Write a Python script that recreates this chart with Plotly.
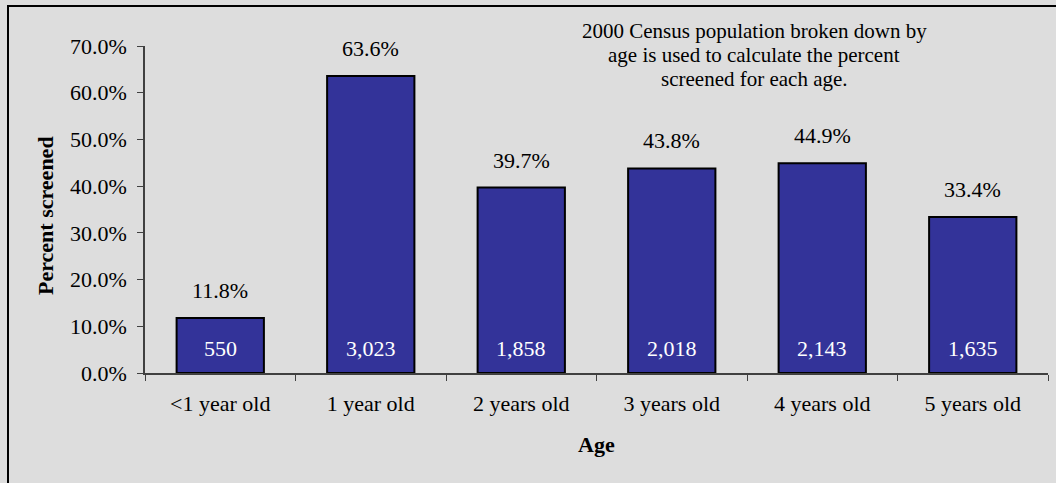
import plotly.graph_objects as go

categories = ["<1 year old", "1 year old", "2 years old", "3 years old", "4 years old", "5 years old"]
percent_screened = [11.8, 63.6, 39.7, 43.8, 44.9, 33.4]
counts = ["550", "3,023", "1,858", "2,018", "2,143", "1,635"]
y_ticks = [0, 10, 20, 30, 40, 50, 60, 70]
y_tick_labels = ["0.0%", "10.0%", "20.0%", "30.0%", "40.0%", "50.0%", "60.0%", "70.0%"]
note_lines = ["2000 Census population broken down by",
              "age is used to calculate the percent",
              "screened for each age."]

FONT = "Liberation Serif, Times New Roman, serif"
BG = "#dddddd"
W, H = 1056, 483
L, R, T, B = 145, 8, 46, 110
PW, PH = W - L - R, H - T - B


def px(x):
    return (x - L) / PW


def py(y):
    return (H - B - y) / PH


fig = go.Figure()
fig.add_trace(go.Bar(
    x=categories, y=percent_screened,
    marker=dict(color="#333399", line=dict(color="#000000", width=2)),
    hoverinfo="skip",
))

annotations = []
for c, v, n in zip(categories, percent_screened, counts):
    annotations.append(dict(x=c, y=v, xref="x", yref="y", text=f"{v:.1f}%",
                            showarrow=False, yanchor="bottom", yshift=13,
                            font=dict(family=FONT, size=22, color="#000000")))
    annotations.append(dict(x=c, y=0, xref="x", yref="y", text=n,
                            showarrow=False, yanchor="bottom", yshift=10,
                            font=dict(family=FONT, size=22, color="#ffffff")))

for i, line in enumerate(note_lines):
    annotations.append(dict(
        x=px(754), y=py(31 + 24 * i), xref="paper", yref="paper", showarrow=False,
        xanchor="center", yanchor="middle",
        text=line, align="center",
        font=dict(family=FONT, size=21, color="#000000"),
    ))
annotations.append(dict(
    x=px(45), y=py(216), xref="paper", yref="paper", showarrow=False,
    xanchor="center", yanchor="middle", textangle=-90,
    text="<b>Percent screened</b>",
    font=dict(family=FONT, size=22, color="#000000"),
))
annotations.append(dict(
    x=px(596), y=py(444), xref="paper", yref="paper", showarrow=False,
    xanchor="center", yanchor="middle",
    text="<b>Age</b>",
    font=dict(family=FONT, size=22, color="#000000"),
))

fig.update_layout(
    width=W, height=H,
    margin=dict(l=L, r=R, t=T, b=B),
    paper_bgcolor=BG, plot_bgcolor=BG,
    bargap=0.42,
    showlegend=False,
    font=dict(family=FONT, size=22, color="#000000"),
    annotations=annotations,
    xaxis=dict(
        type="category",
        showline=True, linecolor="#404040", linewidth=1.5,
        ticks="outside", tickson="boundaries", ticklen=6, tickcolor="#404040",
        tickfont=dict(family=FONT, size=22, color="#000000"),
        ticklabelstandoff=10,
        showgrid=False,
    ),
    yaxis=dict(
        range=[0, 70], tickvals=y_ticks, ticktext=y_tick_labels,
        showline=True, linecolor="#404040", linewidth=1.5,
        ticks="outside", ticklen=6, tickcolor="#404040",
        tickfont=dict(family=FONT, size=22, color="#000000"),
        ticklabelstandoff=6,
        showgrid=False, zeroline=False,
    ),
    shapes=[dict(type="rect", xref="paper", yref="paper",
                 x0=px(8), x1=px(1080), y0=py(500), y1=py(6),
                 line=dict(color="#000000", width=2), fillcolor="rgba(0,0,0,0)", layer="below")],
)

fig.write_html("out.html")
